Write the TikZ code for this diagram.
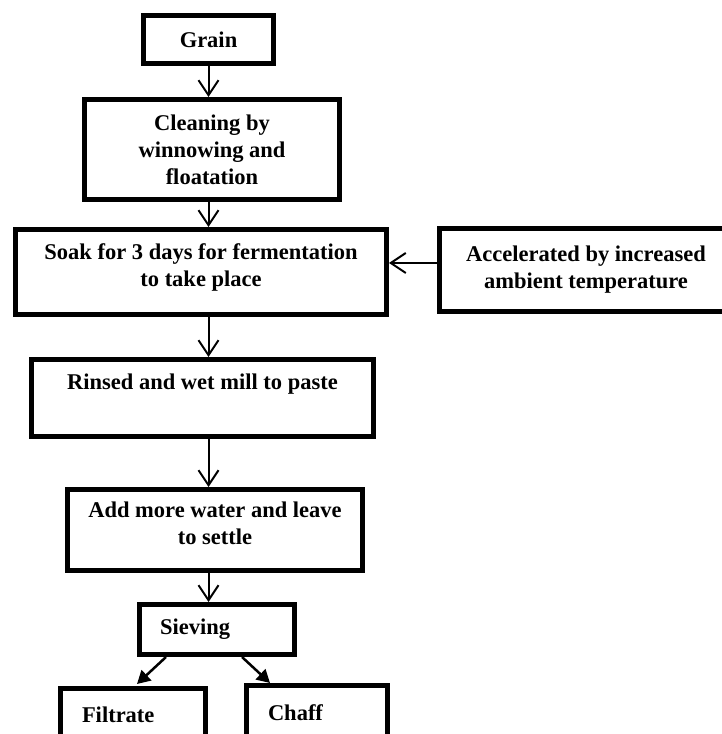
\documentclass[tikz,border=0pt]{standalone}
\usepackage{fontspec}
\setmainfont{Liberation Serif}
\usetikzlibrary{arrows.meta, calc}

\begin{document}
\begin{tikzpicture}[x=1pt, y=1pt,
    box/.style={draw, line width=5pt, align=center,
      font=\bfseries\fontsize{22.5}{27}\selectfont},
    flow/.style={line width=2pt, -{Straight Barb[length=15pt, width=20pt]}},
    split/.style={line width=2.5pt, -{Triangle[length=13pt, width=14pt]}}
  ]
  \useasboundingbox (0,0) rectangle (722,734);

  % process steps
  \node [box, minimum width=130pt, minimum height=48pt] (grain) at (208.5,694.5) {Grain};
  \node [box, minimum width=255pt, minimum height=100pt] (clean) at (212,584.5) {Cleaning by\\winnowing and\\floatation};
  \node [box, minimum width=371pt, minimum height=85pt, text depth=14pt] (soak) at (201,462) {Soak for 3 days for fermentation\\to take place};
  \node [box, minimum width=293pt, minimum height=83pt] (accel) at (586,464) {Accelerated by increased\\ambient temperature};
  \node [box, minimum width=342pt, minimum height=77pt, text depth=32pt] (rinse) at (202.5,336) {Rinsed and wet mill to paste};
  \node [box, minimum width=295pt, minimum height=81pt, text depth=14pt] (settle) at (215,204) {Add more water and leave\\to settle};
  \node [box, align=left, inner xsep=20.5pt, text width=114pt, minimum height=50pt] (sieve) at (217,104.5) {Sieving};
  \node [box, align=left, inner xsep=21.5pt, text width=102pt, minimum height=53pt] (filt) at (133,19) {Filtrate};
  \node [box, align=left, inner xsep=21.5pt, text width=98pt, minimum height=55pt] (chaff) at (317,21) {Chaff};

  % arrows
  \draw (grain.south) coordinate (GS) edge[flow] (GS |- clean.north);
  \draw (grain.south |- clean.south) coordinate (CS) edge[flow] (CS |- soak.north);
  \draw (grain.south |- soak.south) coordinate (SS) edge[flow] (SS |- rinse.north);
  \draw (grain.south |- rinse.south) coordinate (RS) edge[flow] (RS |- settle.north);
  \draw (grain.south |- settle.south) coordinate (AS) edge[flow] (AS |- sieve.north);
  \draw (accel.west) ++(0,7pt) coordinate (AW) edge[flow] (AW -| soak.east);
  \draw [split] ($(sieve.south)+(-51,0)$) -- ($(filt.north)+(4,2)$);
  \draw [split] ($(sieve.south)+(25,0)$) -- ($(chaff.north west)+(26,0)$);
\end{tikzpicture}
\end{document}
